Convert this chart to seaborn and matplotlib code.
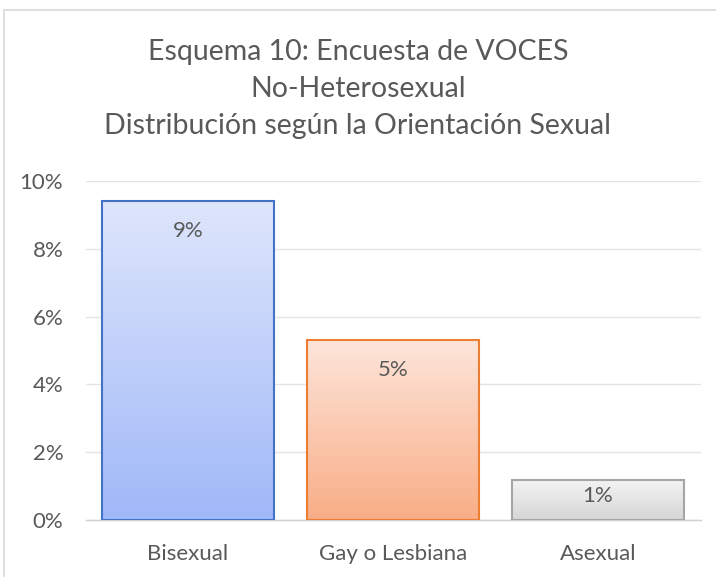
import numpy as np
import pandas as pd
import matplotlib
matplotlib.use("Agg")
import matplotlib.pyplot as plt
import seaborn as sns
from matplotlib.colors import LinearSegmentedColormap
from matplotlib.patches import Rectangle
from matplotlib.ticker import FuncFormatter

categories = ["Bisexual", "Gay o Lesbiana", "Asexual"]
values = [9.4, 5.3, 1.17]
labels = ["9%", "5%", "1%"]
title_lines = ["Esquema 10: Encuesta de VOCES", "No-Heterosexual",
               "Distribución según la Orientación Sexual"]

edge_colors = ["#4472c4", "#ed7d31", "#a5a5a5"]
top_colors = ["#dfe6fc", "#fde5da", "#f3f3f3"]
bottom_colors = ["#9fb8f8", "#f9ad86", "#d6d6d6"]

sns.set_theme(style="white")
plt.rcParams["font.family"] = ["Lato", "DejaVu Sans"]
text_color = "#595959"

fig = plt.figure(figsize=(7.16, 5.77), dpi=100)
ax = fig.add_axes([85.5 / 716, 57 / 577, 615 / 716, 339 / 577])

df = pd.DataFrame({"cat": categories, "val": values})
sns.barplot(data=df, x="cat", y="val", ax=ax, width=0.84, color="white",
            saturation=1)

ax.set_ylim(0, 10)
ax.set_xlim(-0.5, 2.5)
ax.set_yticks([0, 2, 4, 6, 8, 10])
ax.yaxis.set_major_formatter(FuncFormatter(lambda v, p: f"{v:.0f}%"))
ax.set_xlabel("")
ax.set_ylabel("")
ax.grid(axis="y", color="#e4e4e4", linewidth=1.0)
ax.set_axisbelow(True)
for s in ["top", "right", "left"]:
    ax.spines[s].set_visible(False)
ax.spines["bottom"].set_color("#d0d0d0")
ax.spines["bottom"].set_linewidth(1.0)
ax.tick_params(axis="y", length=0, pad=16, labelsize=16, labelcolor=text_color)
ax.tick_params(axis="x", length=0, pad=17, labelsize=16, labelcolor=text_color)

for i, patch in enumerate(ax.patches):
    x0, y0 = patch.get_x(), patch.get_y()
    w, h = patch.get_width(), patch.get_height()
    cmap = LinearSegmentedColormap.from_list(f"g{i}", [bottom_colors[i], top_colors[i]])
    grad = np.linspace(0, 1, 256).reshape(-1, 1)
    im = ax.imshow(grad, cmap=cmap, aspect="auto", origin="lower",
                   extent=[x0, x0 + w, y0, y0 + h], zorder=2)
    im.set_clip_path(patch)
    patch.set_facecolor("none")
    patch.set_edgecolor(edge_colors[i])
    patch.set_linewidth(1.5)
    patch.set_zorder(3)
    h_px = h * 33.9
    off = -min(30, h_px * 0.4)
    ax.annotate(labels[i], (x0 + w / 2, y0 + h), xytext=(0, off * 0.72),
                textcoords="offset points", ha="center", va="center",
                fontsize=16, color=text_color, zorder=4)
ax.set_aspect("auto")
ax.set_xlim(-0.5, 2.5)
ax.set_ylim(0, 10)

ys = [52, 89, 126]
for t, y in zip(title_lines, ys):
    fig.text(0.5, 1 - y / 577, t, ha="center", va="center", fontsize=20.5,
             color=text_color)

fig.patches.append(Rectangle((4 / 716, -0.01), 713 / 716, 1 - 10 / 577 + 0.01,
                             transform=fig.transFigure, fill=False,
                             edgecolor="#d9d9d9", linewidth=1.2))

fig.savefig("out.png", dpi=100)
